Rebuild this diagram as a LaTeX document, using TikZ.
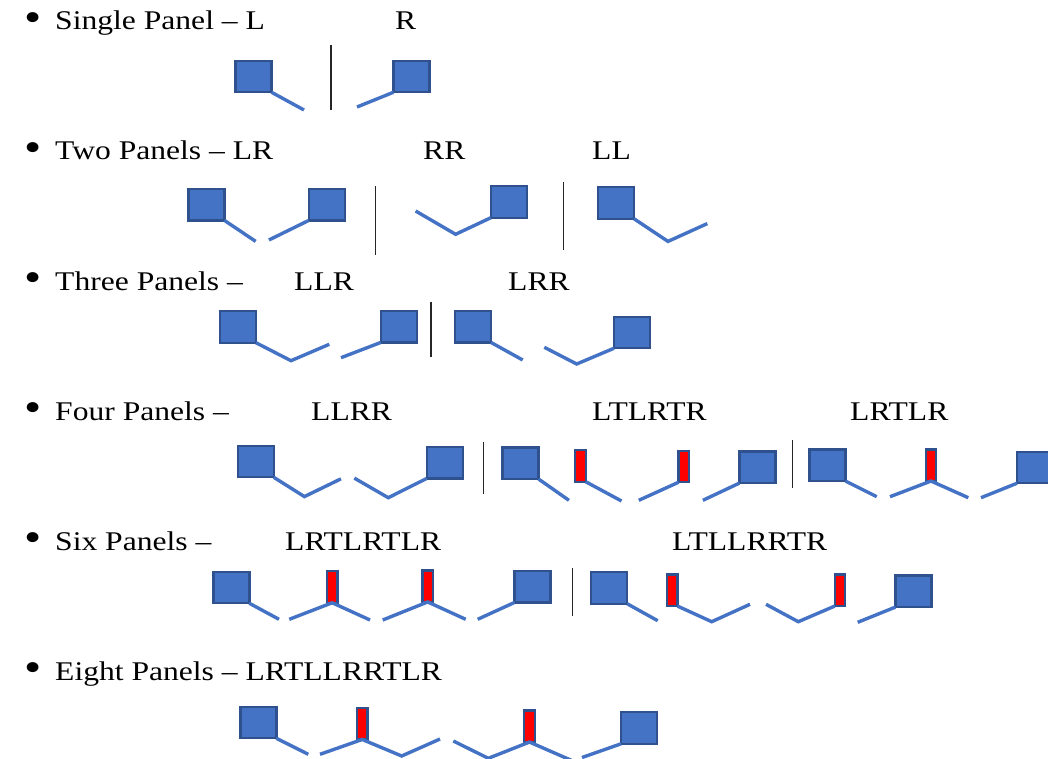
\documentclass[tikz,border=0pt]{standalone}
\usepackage{fontspec}
\setmainfont{Liberation Serif}[FakeStretch=1.17]
\definecolor{pfill}{HTML}{4472C4}
\definecolor{pedge}{HTML}{2F528F}
\tikzset{
  panel/.style={draw=pedge, fill=pfill, line width=2.4pt, minimum width=36pt, minimum height=31.5pt, inner sep=0pt, outer sep=0pt},
  tpanel/.style={draw=pedge, fill=red, line width=2.4pt, minimum width=10.5pt, minimum height=31.5pt, inner sep=0pt, outer sep=0pt},
  hinge/.style={draw=pfill, line width=3.4pt},
  divider/.style={draw=black!85, line width=1.3pt},
  lbl/.style={anchor=base west, inner sep=0pt, font=\fontsize{27}{32}\selectfont},
  bul/.style={anchor=center, inner sep=0pt, font=\fontsize{42}{46}\selectfont}
}
\begin{document}
\begin{tikzpicture}[x=1pt,y=-1pt]
\useasboundingbox (0,0) rectangle (1048,759);
\clip (0,0) rectangle (1048,759);
% ---------- texts ----------
\node[bul] (u1) at (33,22) {•};
\node[lbl] (t1) at (55,30) {Single Panel – L};
\node[lbl] (t1r) at (395,30) {R};
\node[bul] (u2) at (33,152) {•};
\node[lbl] (t2) at (55,160) {Two Panels – LR};
\node[lbl] (t2b) at (423,160) {RR};
\node[lbl] (t2c) at (592,160) {LL};
\node[bul] (u3) at (33,282) {•};
\node[lbl] (t3) at (55,290) {Three Panels –};
\node[lbl] (t3b) at (294,290) {LLR};
\node[lbl] (t3c) at (508,290) {LRR};
\node[bul] (u4) at (33,412) {•};
\node[lbl] (t4) at (55,420) {Four Panels –};
\node[lbl] (t4b) at (311,420) {LLRR};
\node[lbl] (t4c) at (592,420) {LTLRTR};
\node[lbl] (t4d) at (850,420) {LRTLR};
\node[bul] (u5) at (33,542) {•};
\node[lbl] (t5) at (55,550) {Six Panels –};
\node[lbl] (t5b) at (285,550) {LRTLRTLR};
\node[lbl] (t5c) at (672,550) {LTLLRRTR};
\node[bul] (u6) at (33,672) {•};
\node[lbl] (t6) at (55,680) {Eight Panels – LRTLLRRTLR};
% ---------- row 1 ----------
\node[panel] (p1a) at (253.5,76.5) {};
\coordinate (c1a) at (304,110);
\draw[hinge] (p1a.south east) -- (c1a);
\draw[divider] (331,45) -- (331,110);
\node[panel] (p1b) at (411.5,76.5) {};
\coordinate (c1b) at (357,107);
\draw[hinge] (p1b.south west) -- (c1b);
% ---------- row 2 ----------
\node[panel] (p2a) at (206.5,204.7) {};
\coordinate (c2a) at (255.7,241.4);
\draw[hinge] (p2a.south east) -- (c2a);
\node[panel] (p2b) at (326.7,204.7) {};
\coordinate (c2b) at (268.9,240);
\draw[hinge] (c2b) -- (p2b.south west);
\draw[divider] (375.3,186) -- (375.3,255);
\node[panel] (p2c) at (508.8,202) {};
\coordinate (c2c) at (415.6,211);
\coordinate (c2d) at (455.6,234.3);
\draw[hinge] (c2c) -- (c2d) -- (p2c.south west);
\draw[divider] (563.8,182.5) -- (563.8,250.3);
\node[panel] (p2d) at (616,203) {};
\coordinate (c2e) at (668,241.4);
\coordinate (c2f) at (707.3,223.6);
\draw[hinge] (p2d.south east) -- (c2e) -- (c2f);
% ---------- row 3 ----------
\node[panel] (p3a) at (238,327) {};
\coordinate (c3a) at (291,360.7);
\coordinate (c3b) at (329.3,344.3);
\draw[hinge] (p3a.south east) -- (c3a) -- (c3b);
\node[panel] (p3b) at (398.8,326.7) {};
\coordinate (c3c) at (341,357.7);
\draw[hinge] (c3c) -- (p3b.south west);
\draw[divider] (431,301.7) -- (431,356.7);
\node[panel] (p3c) at (473,326.7) {};
\coordinate (c3d) at (522.7,360);
\draw[hinge] (p3c.south east) -- (c3d);
\node[panel] (p3d) at (632,332.5) {};
\coordinate (c3e) at (544.3,347.3);
\coordinate (c3f) at (576.7,364);
\draw[hinge] (c3e) -- (c3f) -- (p3d.south west);
% ---------- row 4 ----------
\node[panel] (p4a) at (255.7,461.5) {};
\coordinate (c4a) at (304.4,496.6);
\coordinate (c4b) at (341,478.8);
\draw[hinge] (p4a.south east) -- (c4a) -- (c4b);
\node[panel] (p4b) at (444.7,462.7) {};
\coordinate (c4c) at (354.3,478.1);
\coordinate (c4d) at (388.3,497.7);
\draw[hinge] (c4c) -- (c4d) -- (p4b.south west);
\draw[divider] (483.8,441.8) -- (483.8,493.6);
\node[panel] (p4c) at (520.6,463.3) {};
\coordinate (c4e) at (568.9,500.3);
\draw[hinge] (p4c.south east) -- (c4e);
\node[tpanel] (q4a) at (580.5,466) {};
\coordinate (c4f) at (621.5,501);
\draw[hinge] (q4a.south east) -- (c4f);
\node[tpanel] (q4b) at (683.8,466.5) {};
\coordinate (c4g) at (638.8,500.3);
\draw[hinge] (c4g) -- (q4b.south west);
\node[panel] (p4d) at (757.5,467.3) {};
\coordinate (c4h) at (702.9,500.3);
\draw[hinge] (c4h) -- (p4d.south west);
\draw[divider] (792.3,440) -- (792.3,488);
\node[panel] (p4e) at (827.5,465.3) {};
\coordinate (c4i) at (876.7,496.7);
\draw[hinge] (p4e.south east) -- (c4i);
\node[tpanel] (q4c) at (931,465.3) {};
\coordinate (c4j) at (890,496.7);
\coordinate (c4k) at (968.3,497.7);
\draw[hinge] (c4j) -- (q4c.south) -- (c4k);
\node[panel] (p4f) at (1035,467.5) {};
\coordinate (c4l) at (981,497.7);
\draw[hinge] (c4l) -- (p4f.south west);
% ---------- row 5 ----------
\node[panel] (p5a) at (231.3,587.5) {};
\coordinate (c5a) at (279,619.3);
\draw[hinge] (p5a.south east) -- (c5a);
\node[tpanel] (q5a) at (332.2,587) {};
\coordinate (c5b) at (289.3,619.3);
\coordinate (c5c) at (370,620);
\draw[hinge] (c5b) -- (q5a.south) -- (c5c);
\node[tpanel] (q5b) at (427.7,586.2) {};
\coordinate (c5d) at (382.7,620);
\coordinate (c5e) at (465.7,619.3);
\draw[hinge] (c5d) -- (q5b.south) -- (c5e);
\node[panel] (p5b) at (532.5,586.7) {};
\coordinate (c5f) at (477.7,619.3);
\draw[hinge] (c5f) -- (p5b.south west);
\draw[divider] (572.7,568.3) -- (572.7,616);
\node[panel] (p5c) at (609.2,588) {};
\coordinate (c5g) at (657.7,620.7);
\draw[hinge] (p5c.south east) -- (c5g);
\node[tpanel] (q5c) at (672.2,590.3) {};
\coordinate (c5h) at (711.7,621.7);
\coordinate (c5i) at (750,604.3);
\draw[hinge] (q5c.south east) -- (c5h) -- (c5i);
\node[tpanel] (q5d) at (840,590.3) {};
\coordinate (c5j) at (766,604.3);
\coordinate (c5k) at (798.3,621.7);
\draw[hinge] (c5j) -- (c5k) -- (q5d.south west);
\node[panel] (p5d) at (913.5,591.3) {};
\coordinate (c5l) at (857.7,622.3);
\draw[hinge] (c5l) -- (p5d.south west);
% ---------- row 6 ----------
\node[panel] (p6a) at (258.3,722.5) {};
\coordinate (c6a) at (308.3,754.3);
\draw[hinge] (p6a.south east) -- (c6a);
\node[tpanel] (q6a) at (362.2,723.7) {};
\coordinate (c6b) at (320,754.3);
\coordinate (c6c) at (401.7,756);
\coordinate (c6d) at (440,739);
\draw[hinge] (c6b) -- (q6a.south) -- (c6c) -- (c6d);
\node[tpanel] (q6b) at (529.5,726.3) {};
\coordinate (c6e) at (453.3,741);
\coordinate (c6f) at (488.3,758.3);
\coordinate (c6g) at (574,761.5);
\draw[hinge] (c6e) -- (c6f) -- (q6b.south) -- (c6g);
\node[panel] (p6b) at (639.2,728) {};
\coordinate (c6h) at (582,757.5);
\draw[hinge] (c6h) -- (p6b.south west);
\end{tikzpicture}
\end{document}
